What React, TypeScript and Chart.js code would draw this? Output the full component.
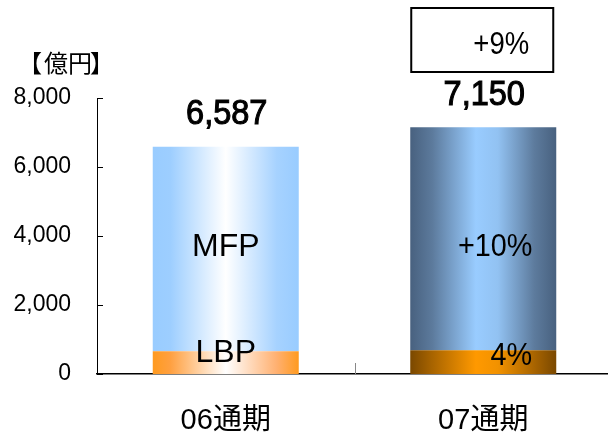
import React, { useEffect, useRef } from "react";
import { Chart, registerables } from "chart.js";

Chart.register(...registerables);

const categories = ["06通期", "07通期"];
const lbpValues = [660, 690];
const mfpValues = [5927, 6460];
const totalLabels = ["6,587", "7,150"];
const mfpLabels = ["MFP", "+10%"];
const lbpLabels = ["LBP", "4%"];
const growthLabel = "+9%";
const unitParts = ["【", "億円", "】"];
const yMax = 8000;
const yStep = 2000;

const BAR_PCT = 0.567;
const FONT = "'Liberation Sans', Arial, 'Noto Sans CJK JP', sans-serif";
const CJK = "'Noto Sans CJK JP', sans-serif";

const mfpStops: [number, string][][] = [
  [[0, "#99CCFF"], [0.12, "#9DCEFF"], [0.5, "#FFFFFF"], [0.85, "#A6D2FF"], [1, "#99CCFF"]],
  [[0, "#48617F"], [0.15, "#5C7A9C"], [0.45, "#99CCFF"], [0.6, "#92C2F2"], [0.85, "#5D7B9D"], [1, "#48617F"]],
];
const lbpStops: [number, string][][] = [
  [[0, "#FF9A1F"], [0.12, "#FFA040"], [0.5, "#FFFFFF"], [0.85, "#FFB070"], [1, "#FF9A1F"]],
  [[0, "#7A4800"], [0.15, "#A86400"], [0.45, "#FF9900"], [0.6, "#F29200"], [0.85, "#A86400"], [1, "#7A4800"]],
];

function makeGrad(chart: any, index: number, stops: [number, string][]) {
  const xs = chart.scales && chart.scales.x;
  if (!xs || !chart.chartArea) return stops[0][1];
  const center = xs.getPixelForValue(index);
  const w = (xs.width / categories.length) * BAR_PCT;
  const g = chart.ctx.createLinearGradient(center - w / 2, 0, center + w / 2, 0);
  stops.forEach(([o, c]) => g.addColorStop(o, c));
  return g;
}

function condensedText(ctx: any, text: string, x: number, y: number, sx: number, stroke = 0) {
  ctx.save();
  ctx.translate(x, y);
  ctx.scale(sx, 1);
  ctx.fillText(text, 0, 0);
  if (stroke > 0) {
    ctx.lineWidth = stroke;
    ctx.strokeStyle = "#000";
    ctx.strokeText(text, 0, 0);
  }
  ctx.restore();
}

const overlayPlugin = {
  id: "overlay",
  afterDraw(chart: any) {
    const { ctx, scales } = chart;
    const xs = scales.x;
    const ys = scales.y;
    ctx.save();
    ctx.strokeStyle = "#000";
    ctx.lineWidth = 1;
    for (let v = 0; v <= yMax; v += yStep) {
      const py = Math.round(ys.getPixelForValue(v)) + 0.5;
      ctx.beginPath();
      ctx.moveTo(xs.left, py);
      ctx.lineTo(xs.left + 6, py);
      ctx.stroke();
    }
    const sx = Math.round(xs.getPixelForValue(0.5)) + 0.5;
    ctx.strokeStyle = "#888";
    ctx.beginPath();
    ctx.moveTo(sx, ys.bottom);
    ctx.lineTo(sx, ys.bottom - 11);
    ctx.stroke();

    ctx.fillStyle = "#000";
    ctx.textBaseline = "middle";
    ctx.font = `24px ${CJK}`;
    ctx.textAlign = "left";
    ctx.fillText(unitParts[0], 18, 63);
    ctx.fillText(unitParts[1], 44, 63);
    ctx.fillText(unitParts[2], 90, 63);

    ctx.textAlign = "center";
    const metaL = chart.getDatasetMeta(0);
    const metaM = chart.getDatasetMeta(1);
    categories.forEach((_, i) => {
      const barM = metaM.data[i];
      const barL = metaL.data[i];
      ctx.font = `35px ${FONT}`;
      condensedText(ctx, totalLabels[i], barM.x + 1, barM.y - 32, 0.93, 1.1);
      ctx.font = `32px ${FONT}`;
      if (i === 0) {
        ctx.fillText(mfpLabels[i], barM.x, ys.getPixelForValue(3670));
        ctx.fillText(lbpLabels[i], barL.x, barL.y + 2);
      } else {
        condensedText(ctx, mfpLabels[i], barM.x + 12, ys.getPixelForValue(3670), 0.9);
        condensedText(ctx, lbpLabels[i], barL.x + 28, barL.y + 6, 0.9);
      }
    });

    const b2 = metaM.data[1];
    const bx = b2.x - b2.width / 2 + 1;
    ctx.lineWidth = 2;
    ctx.strokeStyle = "#000";
    ctx.strokeRect(bx, 8, b2.width - 4, 64);
    ctx.font = `32px ${FONT}`;
    condensedText(ctx, growthLabel, b2.x + 18, 45, 0.86);
    ctx.restore();
  },
};

export default function App() {
  const ref = useRef<HTMLCanvasElement>(null);
  useEffect(() => {
    if (!ref.current) return;
    const chart = new Chart(ref.current, {
      type: "bar",
      data: {
        labels: categories,
        datasets: [
          {
            label: "LBP",
            data: lbpValues,
            backgroundColor: (c: any) => makeGrad(c.chart, c.dataIndex, lbpStops[c.dataIndex] || lbpStops[0]),
            borderWidth: 0,
            barPercentage: BAR_PCT,
            categoryPercentage: 1,
          },
          {
            label: "MFP",
            data: mfpValues,
            backgroundColor: (c: any) => makeGrad(c.chart, c.dataIndex, mfpStops[c.dataIndex] || mfpStops[0]),
            borderWidth: 0,
            barPercentage: BAR_PCT,
            categoryPercentage: 1,
          },
        ],
      },
      options: {
        responsive: false,
        animation: false,
        events: [],
        layout: { padding: { top: 98, left: 0, right: 0, bottom: 0 } },
        plugins: { legend: { display: false }, tooltip: { enabled: false }, title: { display: false } },
        scales: {
          x: {
            stacked: true,
            offset: true,
            grid: { display: false, drawTicks: false },
            border: { display: true, color: "#000", width: 1.5 },
            ticks: { color: "#000", font: { size: 29, family: FONT }, padding: 30 },
            afterFit: (s: any) => { s.height = 64; },
          },
          y: {
            stacked: true,
            min: 0,
            max: yMax,
            grid: { display: false, drawTicks: false },
            border: { display: true, color: "#000", width: 1 },
            ticks: {
              stepSize: yStep,
              color: "#000",
              font: { size: 23, family: FONT },
              padding: 26,
              callback: (v: any) => Number(v).toLocaleString("en-US"),
            },
            afterFit: (s: any) => { s.width = 97; },
          },
        },
      },
      plugins: [overlayPlugin],
    });
    return () => chart.destroy();
  }, []);
  return (
    <div style={{ position: "absolute", left: 0, top: 0, width: 608, height: 438, overflow: "hidden", background: "#fff" }}>
      <canvas ref={ref} width={612} height={438} style={{ display: "block" }} />
    </div>
  );
}
